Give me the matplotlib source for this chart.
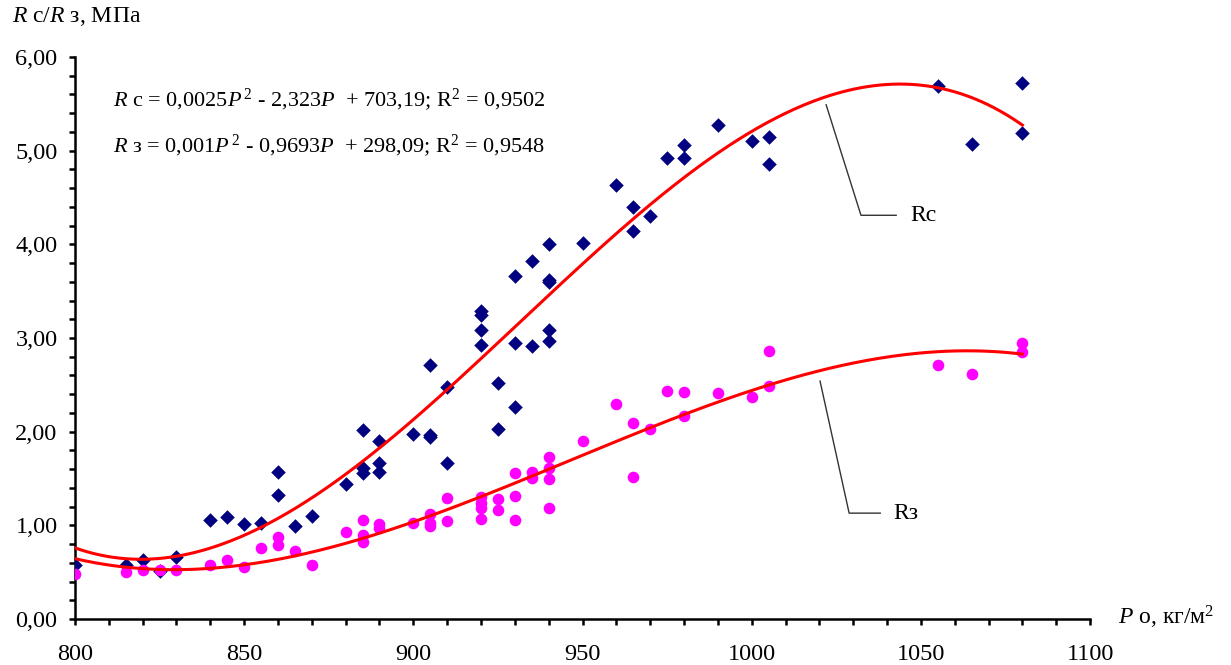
import numpy as np
import matplotlib
matplotlib.use("Agg")
import matplotlib.pyplot as plt
from matplotlib.ticker import MultipleLocator, FuncFormatter

plt.rcParams['font.family'] = ['Liberation Serif', 'DejaVu Serif']
plt.rcParams['mathtext.fontset'] = 'custom'
plt.rcParams['mathtext.rm'] = 'Liberation Serif'
plt.rcParams['mathtext.it'] = 'Liberation Serif:italic'

# Rc data (density, strength)
rc_p = [800, 815, 820, 825, 830, 840, 845, 850, 855, 860, 860, 865, 870, 880,
        885, 885, 885, 890, 890, 890, 900, 905, 905, 905, 910, 910,
        920, 920, 920, 920, 925, 925, 930, 930, 930, 935, 935,
        940, 940, 940, 940, 940, 950, 960, 965, 965, 970, 975, 980, 980,
        990, 1000, 1005, 1005, 1055, 1065, 1080, 1080]
rc_v = [0.58, 0.58, 0.63, 0.51, 0.66, 1.06, 1.09, 1.01, 1.02, 1.57, 1.32, 0.99, 1.10, 1.44,
        2.02, 1.61, 1.56, 1.90, 1.67, 1.57, 1.98, 2.71, 1.96, 1.94, 2.48, 1.67,
        3.29, 3.25, 3.09, 2.93, 2.52, 2.03, 3.66, 2.95, 2.26, 3.82, 2.91,
        4.00, 3.62, 3.60, 3.09, 2.97, 4.01, 4.63, 4.40, 4.14, 4.30, 4.92, 5.06, 4.92,
        5.27, 5.10, 5.15, 4.86, 5.69, 5.07, 5.72, 5.19]

# Rz data
rz_p = [800, 815, 820, 825, 830, 840, 845, 850, 855, 860, 860, 865, 870, 880,
        885, 885, 885, 890, 890, 900, 905, 905, 905, 910, 910,
        920, 920, 920, 920, 925, 925, 930, 930, 930, 935, 935,
        940, 940, 940, 940, 950, 960, 965, 965, 970, 975, 980, 980,
        990, 1000, 1005, 1005, 1055, 1065, 1080, 1080]
rz_v = [0.48, 0.50, 0.52, 0.52, 0.52, 0.58, 0.63, 0.56, 0.76, 0.88, 0.79, 0.73, 0.58, 0.93,
        1.06, 0.90, 0.82, 1.01, 0.97, 1.03, 1.12, 1.03, 0.99, 1.29, 1.05,
        1.30, 1.24, 1.18, 1.07, 1.28, 1.16, 1.56, 1.31, 1.06, 1.57, 1.50,
        1.73, 1.61, 1.49, 1.19, 1.90, 2.30, 2.09, 1.52, 2.03, 2.43, 2.42, 2.17,
        2.41, 2.37, 2.86, 2.49, 2.71, 2.62, 2.95, 2.85]

x_ticks = [800, 850, 900, 950, 1000, 1050, 1100]
y_ticks = [0, 1, 2, 3, 4, 5, 6]

eq_rc = r"$R$ с = 0,0025$P^{\,2}$ - 2,323$P$  + 703,19; R$^2$ = 0,9502"
eq_rz = r"$R$ з = 0,001$P^{\,2}$ - 0,9693$P$  + 298,09; R$^2$ = 0,9548"

fig = plt.figure(figsize=(12.31, 6.65), dpi=100)
ax = fig.add_axes([0.0609, 0.0692, 0.8246, 0.8451])

ax.scatter(rc_p, rc_v, marker='D', s=55, color='#000080', zorder=3, linewidths=0)
ax.scatter(rz_p, rz_v, marker='o', s=70, color='#FF00FF', zorder=3, linewidths=0)

xx = np.linspace(800, 1080, 300)
for p, v in ((rc_p, rc_v), (rz_p, rz_v)):
    c = np.polyfit(p, v, 3)
    ax.plot(xx, np.polyval(c, xx), color='#FF0000', lw=2.2, zorder=4)

ax.set_xlim(800, 1100)
ax.set_ylim(0, 6)
ax.set_xticks(x_ticks)
ax.set_yticks(y_ticks)
ax.xaxis.set_minor_locator(MultipleLocator(10))
ax.yaxis.set_minor_locator(MultipleLocator(0.2))
ax.yaxis.set_major_formatter(FuncFormatter(lambda v, _: f"{v:.2f}".replace('.', ',')))
ax.tick_params(which='both', direction='out', width=1.8, labelsize=17.5, color='black')
ax.tick_params(which='major', length=4)
ax.tick_params(which='minor', length=4)
ax.tick_params(axis='x', pad=14)
ax.tick_params(axis='y', pad=8.5)
for s in ('top', 'right'):
    ax.spines[s].set_visible(False)
for s in ('left', 'bottom'):
    ax.spines[s].set_linewidth(1.8)

fig.text(12/1231, 1 - 17/665, r"$R$ с/$R$ з, МПа", fontsize=17, va='center', ha='left')
fig.text(1118/1231, 1 - 617/665, r"$P$ о, кг/м$^2$", fontsize=17, va='center', ha='left')

ax.text(0.0375, 0.925, eq_rc, transform=ax.transAxes, fontsize=16, va='center', ha='left')
ax.text(0.0375, 0.842, eq_rz, transform=ax.transAxes, fontsize=16, va='center', ha='left')

# leader lines
ax.plot([1022, 1032.3, 1042.7], [5.49, 4.31, 4.31], color='#333333', lw=1, zorder=2)
ax.text(1046.8, 4.31, "Rc", fontsize=17, va='center', ha='left')
ax.plot([1020.2, 1028.8, 1038], [2.54, 1.13, 1.13], color='#333333', lw=1, zorder=2)
ax.text(1041.8, 1.13, "Rз", fontsize=17, va='center', ha='left')

fig.savefig("out.png", dpi=100)
